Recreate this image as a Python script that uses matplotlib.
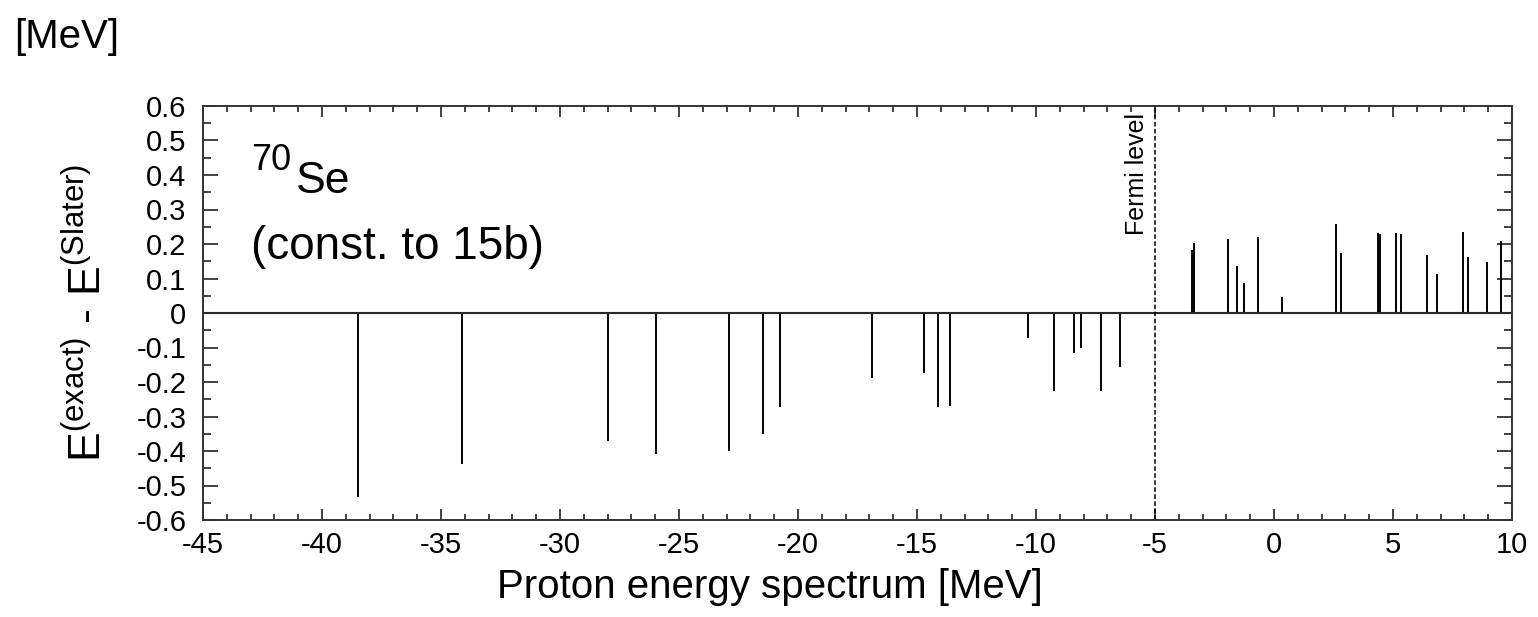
import matplotlib
matplotlib.use("Agg")
import matplotlib.pyplot as plt
from matplotlib.ticker import MultipleLocator, FuncFormatter

# single-particle proton levels [MeV] and E(exact) - E(Slater) [MeV]
energies = [-38.5, -34.1, -28.0, -25.95, -22.9, -21.45, -20.75, -16.9, -14.7,
            -14.1, -13.6, -10.35, -9.25, -8.4, -8.1, -7.25, -6.45,
            -3.45, -3.38, -1.92, -1.57, -1.26, -0.69, 0.32, 2.59, 2.80,
            4.38, 4.47, 5.11, 5.34, 6.43, 6.86, 7.95, 8.16, 8.96, 9.54]
diffs = [-0.534, -0.439, -0.371, -0.41, -0.40, -0.352, -0.273, -0.188, -0.175,
         -0.273, -0.269, -0.072, -0.225, -0.115, -0.101, -0.225, -0.157,
         0.184, 0.202, 0.214, 0.137, 0.086, 0.219, 0.047, 0.258, 0.173,
         0.232, 0.228, 0.232, 0.228, 0.168, 0.113, 0.235, 0.163, 0.147, 0.209]
fermi_level = -5.0

x_lim = (-45, 10)
y_lim = (-0.6, 0.6)

plt.rcParams["font.family"] = ["Liberation Sans", "DejaVu Sans"]
plt.rcParams["mathtext.fontset"] = "custom"
plt.rcParams["mathtext.rm"] = "Liberation Sans"
plt.rcParams["mathtext.it"] = "Liberation Sans:italic"
plt.rcParams["mathtext.bf"] = "Liberation Sans:bold"
plt.rcParams["axes.unicode_minus"] = False

W, H = 1538, 617
fig = plt.figure(figsize=(W / 100, H / 100), dpi=100)
# axes box in pixels: left 203, right 1512, top 106, bottom 520
ax = fig.add_axes([203 / W, 1 - 520 / H, (1512 - 203) / W, (520 - 106) / H])

ax.vlines(energies, 0, diffs, color="black", lw=1.4)
ax.axhline(0, color="#2a2a2a", lw=1.5)
ax.axvline(fermi_level, color="black", lw=1.1, ls=(0, (3, 1.6)))

ax.set_xlim(*x_lim)
ax.set_ylim(*y_lim)

ax.xaxis.set_major_locator(MultipleLocator(5))
ax.xaxis.set_minor_locator(MultipleLocator(1))
ax.yaxis.set_major_locator(MultipleLocator(0.1))
ax.yaxis.set_minor_locator(MultipleLocator(0.05))
ax.yaxis.set_major_formatter(FuncFormatter(lambda v, p: f"{round(v, 2):g}"))
ax.xaxis.set_major_formatter(FuncFormatter(lambda v, p: f"{v:g}"))

for side in ax.spines.values():
    side.set_color("#333333")
    side.set_linewidth(1.4)

ax.tick_params(which="both", direction="in", top=True, right=True,
               color="#333333", width=1.3, labelsize=21)
ax.tick_params(axis="x", which="major", length=8, pad=8)
ax.tick_params(axis="x", which="minor", length=4)
ax.tick_params(axis="y", which="major", length=11, pad=12)
ax.tick_params(axis="y", which="minor", length=5.5)

ax.set_ylabel(r"$\mathregular{E^{(exact)}}$ - $\mathregular{E^{(Slater)}}$",
              fontsize=32)
ax.yaxis.set_label_coords((110 - 203) / 1309, 0.5)

fig.text(770 / W, 1 - 598 / H, "Proton energy spectrum [MeV]", fontsize=29,
         ha="center", va="baseline")
fig.text(14 / W, 1 - 48 / H, "[MeV]", fontsize=29, ha="left", va="baseline")

ax.text((251 - 203) / 1309, (520 - 170) / 414, "70", fontsize=26,
        transform=ax.transAxes, ha="left", va="baseline")
ax.text((296 - 203) / 1309, (520 - 193) / 414, "Se", fontsize=32,
        transform=ax.transAxes, ha="left", va="baseline")
ax.text((251 - 203) / 1309, (520 - 259) / 414, "(const. to 15b)", fontsize=33,
        transform=ax.transAxes, ha="left", va="baseline")

ax.annotate("Fermi level", xy=(fermi_level, y_lim[1]), xytext=(-4, -5),
            textcoords="offset points", rotation=90, ha="right", va="top",
            fontsize=18)

fig.savefig("out.png", dpi=100)
